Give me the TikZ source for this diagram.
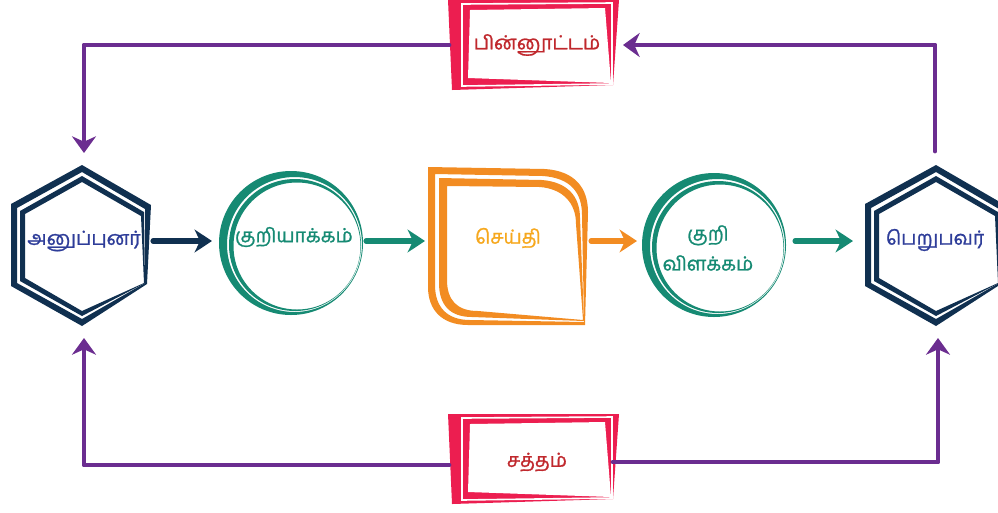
\documentclass[tikz,border=0pt]{standalone}
\usepackage{fontspec}
\newfontfamily\tamil[Script=Tamil, FakeBold=1.2]{Hind Madurai}
\usetikzlibrary{arrows.meta}
\definecolor{cnavy}{RGB}{16,48,80}
\definecolor{cteal}{RGB}{22,138,115}
\definecolor{corange}{RGB}{242,140,34}
\definecolor{ctxtorange}{RGB}{246,168,30}
\definecolor{cpurple}{RGB}{107,45,144}
\definecolor{cred}{RGB}{236,30,80}
\definecolor{ctxtred}{RGB}{192,40,45}
\definecolor{cblue}{RGB}{46,61,153}
\tikzset{
  lbl/.style={font=\tamil\fontsize{14.5}{22.5}\selectfont, inner sep=0pt, align=center},
  flow/.style={line width=3.8pt, line cap=round,
    -{Stealth[length=13pt,width=17pt,inset=4pt]}},
  fb/.style={draw=cpurple, line width=3.7pt, line cap=round, line join=round,
    -{Stealth[length=12.5pt,width=18pt,inset=4pt]}}
}
\newcommand\HexRing{%
  \fill[cnavy, even odd rule]
    (82,165) -- (151,205) -- (147,284) -- (82,326) -- (11,286) -- (11,204) -- cycle
    (82,172) -- (145,209) -- (145,283) -- (82,319) -- (17,283) -- (17,208) -- cycle;
  \fill[cnavy, even odd rule]
    (82,176) -- (144,212) -- (145,283) -- (82,316) -- (20,281) -- (20,211) -- cycle
    (82,182) -- (141,216) -- (144,283) -- (82,311) -- (25,278) -- (25,214) -- cycle;
}
\newcommand\CircRing{%
  \fill[cteal, even odd rule] (291,243) circle (72) (294.5,244.5) circle (67.5);
  \fill[cteal, even odd rule] (295,245) circle (66) (297,246) circle (63.5);
}
\newcommand\RedBox{%
  \fill[cred] (448,0) -- (619,0) -- (613,85) -- (452,90) -- cycle;
  \draw[white, line width=1.2pt] (462,4) -- (612,3) -- (612,84) -- (462,86) -- cycle;
  \fill[white] (470,10) -- (605,8) -- (611,83) -- (468,78) -- cycle;
}
\begin{document}
\begin{tikzpicture}[x=0.75pt,y=-0.75pt]
\useasboundingbox (0,0) rectangle (998,512);
\clip (0,0) rectangle (998,512);

% sender and receiver hexagons
\HexRing
\begin{scope}[shift={(854,0)}]
  \HexRing
\end{scope}

% encoder and decoder rings
\CircRing
\begin{scope}[shift={(423,2)}]
  \CircRing
\end{scope}

% message shape
\fill[corange, even odd rule]
  (428,167) -- (545,169) .. controls (575,171) and (588,188) .. (588,212)
  -- (585,325) -- (468,325) .. controls (442,325) and (428,310) .. (428,287) -- cycle
  (435,174) -- (543,176) .. controls (570,178) and (582,192) .. (582,215)
  -- (584,322) -- (470,320) .. controls (447,320) and (435,307) .. (435,285) -- cycle;
\fill[corange, even odd rule]
  (439,178) -- (542,180) .. controls (567,182) and (580,196) .. (580,218)
  -- (584,321) -- (472,317) .. controls (450,317) and (439,305) .. (439,283) -- cycle
  (447,186) -- (540,187) .. controls (563,189) and (576,203) .. (576,224)
  -- (583,320) -- (478,311) .. controls (457,311) and (447,300) .. (447,280) -- cycle;

% feedback and noise boxes
\RedBox
\begin{scope}[shift={(0,414)}]
  \RedBox
\end{scope}

% labels
\node[lbl, text=cblue] (snd) at (84,241) {அனுப்புனர்};
\node[lbl, text=cblue] (rcv) at (935,240) {பெறுபவர்};
\node[lbl, text=cteal] (enc) at (294,237) {குறியாக்கம்};
\node[lbl, text=ctxtorange] (msg) at (508,238) {செய்தி};
\node[lbl, text=cteal] (dec) at (708,248) {குறி\\விளக்கம்};
\node[lbl, text=ctxtred] (fbk) at (537,45) {பின்னூட்டம்};
\node[lbl, text=ctxtred] (noise) at (537,462) {சத்தம்};

% connector end points
\coordinate (snd-e) at (153,241);
\coordinate (enc-w) at (212,241);
\coordinate (enc-e) at (366,241);
\coordinate (msg-w) at (425,241);
\coordinate (msg-e) at (591,241);
\coordinate (dec-w) at (637,241);
\coordinate (dec-e) at (795,241);
\coordinate (rcv-w) at (853,241);
\coordinate (rcv-n) at (935,151);
\coordinate (rcv-s) at (938,338);
\coordinate (snd-n) at (84,153);
\coordinate (snd-s) at (84,338);
\coordinate (fbk-e) at (623,45);
\coordinate (fbk-w) at (449,45);
\coordinate (noise-e) at (613,462);
\coordinate (noise-w) at (449,465);

% forward flow
\draw[flow, draw=cnavy] (snd-e) -- (enc-w);
\draw[flow, draw=cteal] (enc-e) -- (msg-w);
\draw[flow, draw=corange] (msg-e) -- (dec-w);
\draw[flow, draw=cteal] (dec-e) -- (rcv-w);

% feedback and noise paths
\draw[fb] (rcv-n) |- (fbk-e);
\draw[fb] (fbk-w) -| (snd-n);
\draw[fb] (noise-e) -| (rcv-s);
\draw[fb] (noise-w) -| (snd-s);
\end{tikzpicture}
\end{document}
